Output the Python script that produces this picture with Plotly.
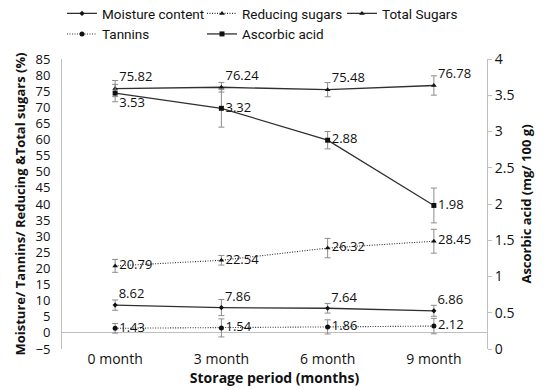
import plotly.graph_objects as go

months = ["0 month", "3 month", "6 month", "9 month"]
moisture = [8.62, 7.86, 7.64, 6.86]
moisture_err = [1.6, 2.5, 1.5, 1.7]
reducing = [20.79, 22.54, 26.32, 28.45]
reducing_err = [2.0, 1.5, 3.0, 3.7]
total_sugars = [75.82, 76.24, 75.48, 76.78]
total_sugars_err = [2.5, 1.5, 2.2, 3.0]
tannins = [1.43, 1.54, 1.86, 2.12]
tannins_err = [1.5, 2.8, 2.2, 2.4]
ascorbic = [3.53, 3.32, 2.88, 1.98]
ascorbic_err = [0.12, 0.26, 0.12, 0.24]

FONT = "Open Sans"
LFONT = "Roboto"
LINE = "#303030"
ERR = "#8c8c8c"

def fmt(v):
    return [f"{x:.2f}" for x in v]

fig = go.Figure()

def add(name, y, err, dash, symbol, msize, textpos, yaxis="y"):
    fig.add_trace(go.Scatter(
        x=months, y=y, name=name, yaxis=yaxis,
        mode="lines+markers+text",
        text=fmt(y), textposition=textpos,
        textfont=dict(family=FONT, size=13, color="#111111"),
        line=dict(color=LINE, width=1.3 if dash == "solid" else 1.1, dash=dash),
        marker=dict(color="#111111", symbol=symbol, size=msize),
        error_y=dict(type="data", array=err, visible=True, color=ERR, thickness=1, width=3),
        cliponaxis=False,
    ))

DOT = "1px,1.5px"
add("Moisture content", moisture, moisture_err, "solid", "diamond", 4, "top right")
add("Reducing sugars", reducing, reducing_err, DOT, "triangle-up", 5, "middle right")
add("Total Sugars", total_sugars, total_sugars_err, "solid", "triangle-up", 5, "top right")
add("Tannins", tannins, tannins_err, DOT, "circle", 5, "middle right")
add("Ascorbic acid", ascorbic, ascorbic_err, "solid", "square", 5,
    ["bottom right", "middle right", "middle right", "middle right"], yaxis="y2")

fig.update_layout(
    width=550, height=390,
    margin=dict(l=62, r=63, t=59, b=41, autoexpand=False),
    paper_bgcolor="white", plot_bgcolor="white",
    font=dict(family=FONT, size=13, color="#262626"),
    showlegend=True,
    legend=dict(orientation="h", x=0.0, y=1.21, yref="paper", yanchor="top",
                xanchor="left", entrywidth=95, font=dict(family=LFONT, size=13.5, color="#111111"),
                itemwidth=30, tracegroupgap=0, bgcolor="rgba(0,0,0,0)"),
    xaxis=dict(range=[-0.5, 3.5], showline=False, showgrid=False, zeroline=False,
               ticks="", tickfont=dict(family=FONT, size=14, color="#111111"),
               title=dict(text="<b>Storage period (months)</b>", standoff=6,
                          font=dict(family=FONT, size=14, color="#111111"))),
    yaxis=dict(range=[-5, 85], dtick=5, tick0=0, showgrid=False, showline=True,
               linecolor="#bfbfbf", linewidth=1, zeroline=True, zerolinecolor="#bfbfbf",
               zerolinewidth=1, ticks="", ticklabelstandoff=8,
               tickfont=dict(family=FONT, size=13, color="#111111"),
               title=dict(text="<b>Moisture/ Tannins/ Reducing &Total sugars (%)</b>",
                          standoff=6, font=dict(family=FONT, size=13, color="#111111"))),
    yaxis2=dict(range=[0, 4], dtick=0.5, overlaying="y", side="right", showgrid=False,
                showline=True, linecolor="#bfbfbf", linewidth=1, zeroline=False,
                ticks="outside", ticklen=4, tickcolor="#bfbfbf",
                tickfont=dict(family=FONT, size=14, color="#111111"),
                title=dict(text="<b>Ascorbic acid (mg/ 100 g)</b>", standoff=8,
                           font=dict(family=FONT, size=13, color="#111111"))),
)

fig.write_html("out.html", config={"displayModeBar": False},
               post_script="document.body.style.margin='0';document.body.style.overflow='hidden';")
